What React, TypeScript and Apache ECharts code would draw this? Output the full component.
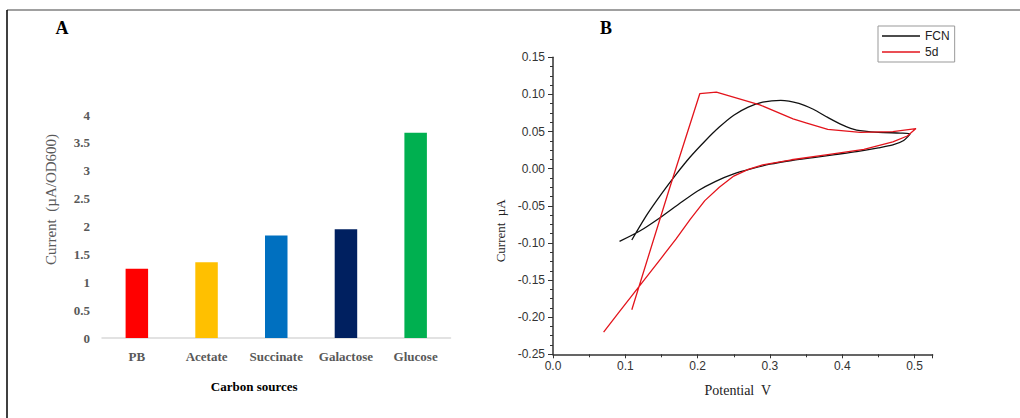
import React, { useEffect, useRef } from "react";
import * as echarts from "echarts";

// ---- Panel A data ----
const carbonSources = ["PB", "Acetate", "Succinate", "Galactose", "Glucose"];
const currentPerOD = [1.24, 1.36, 1.84, 1.95, 3.68];
const barColors = ["#FF0000", "#FFC000", "#0070C0", "#002060", "#00B050"];
const barTicks = { min: 0, max: 4, interval: 0.5 };

// ---- Panel B data (cyclic voltammograms) ----
const fcnPotential = [
  0.092, 0.12, 0.148, 0.175, 0.2, 0.225, 0.25, 0.275, 0.3, 0.33, 0.36, 0.39, 0.42, 0.45, 0.47, 0.485, 0.494,
  0.48, 0.45, 0.42, 0.4, 0.38, 0.36, 0.34, 0.315, 0.29, 0.27, 0.25, 0.23, 0.21, 0.19, 0.17, 0.15, 0.13, 0.109,
];
const fcnCurrent = [
  -0.098, -0.084, -0.066, -0.047, -0.03, -0.017, -0.007, 0.0, 0.006, 0.011, 0.015, 0.019, 0.023, 0.028, 0.032, 0.038, 0.047,
  0.048, 0.049, 0.052, 0.059, 0.069, 0.080, 0.088, 0.092, 0.0895, 0.083, 0.072, 0.056, 0.037, 0.016, -0.008, -0.034, -0.062, -0.096,
];
const d5Potential = [
  0.07, 0.09, 0.11, 0.13, 0.15, 0.17, 0.19, 0.21, 0.23, 0.25, 0.27, 0.29, 0.33, 0.38, 0.43, 0.47, 0.49, 0.502,
  0.47, 0.425, 0.38, 0.351, 0.332, 0.286, 0.226, 0.203, 0.16, 0.109,
];
const d5Current = [
  -0.22, -0.195, -0.17, -0.145, -0.12, -0.095, -0.068, -0.043, -0.025, -0.01, -0.001, 0.005, 0.012, 0.019, 0.026, 0.036, 0.044, 0.054,
  0.05, 0.049, 0.053, 0.0615, 0.067, 0.086, 0.103, 0.101, -0.03, -0.19,
];

const serif = "'Liberation Serif', 'Times New Roman', serif";
const sans = "'Liberation Sans', Arial, sans-serif";

export default function App() {
  const ref = useRef<HTMLDivElement>(null);

  useEffect(() => {
    if (!ref.current) return;
    const chart = echarts.init(ref.current, null, { renderer: "svg" });
    const pairs = (xs: number[], ys: number[]) => xs.map((x, i) => [x, ys[i]]);

    chart.setOption({
      animation: false,
      backgroundColor: "#ffffff",
      textStyle: { fontFamily: sans },
      grid: [
        { left: 102, top: 115, width: 348.5, height: 223 },
        { left: 553, top: 57.3, width: 379.6, height: 297 },
      ],
      legend: {
        data: [
          { name: "FCN", icon: "rect" },
          { name: "5d", icon: "rect" },
        ],
        orient: "vertical",
        left: 878,
        top: 26,
        itemWidth: 38,
        itemHeight: 1.5,
        itemGap: 2,
        padding: [3, 5, 3, 4],
        borderColor: "#999",
        borderWidth: 1,
        textStyle: { fontFamily: sans, fontSize: 12, color: "#222", lineHeight: 14 },
      },
      xAxis: [
        {
          gridIndex: 0,
          type: "category",
          data: carbonSources,
          axisLine: { lineStyle: { color: "#d9d9d9", width: 1.5 } },
          axisTick: { show: false },
          axisLabel: { interval: 0, color: "#595959", fontFamily: serif, fontSize: 13, fontWeight: "bold", margin: 12 },
          name: "Carbon sources",
          nameLocation: "middle",
          nameGap: 42,
          nameTextStyle: { fontFamily: serif, fontSize: 13, fontWeight: "bold", color: "#000", padding: [0, 44, 0, 0] },
        },
        {
          gridIndex: 1,
          type: "value",
          min: 0,
          max: 0.525,
          interval: 0.1,
          axisLine: { onZero: false, lineStyle: { color: "#333", width: 1.5 } },
          axisTick: { length: 4, lineStyle: { color: "#333" } },
          minorTick: { show: true, splitNumber: 2, length: 3, lineStyle: { color: "#333" } },
          splitLine: { show: false },
          axisLabel: {
            color: "#333",
            fontSize: 12,
            fontFamily: sans,
            margin: 6,
            showMaxLabel: false,
            formatter: (v: number) => v.toFixed(1),
          },
          name: "Potential  V",
          nameLocation: "middle",
          nameGap: 29,
          nameTextStyle: { fontFamily: serif, fontSize: 14, color: "#222", padding: [0, 10, 0, 0] },
        },
      ],
      yAxis: [
        {
          gridIndex: 0,
          type: "value",
          min: barTicks.min,
          max: barTicks.max,
          interval: barTicks.interval,
          axisLine: { show: false },
          axisTick: { show: false },
          splitLine: { show: false },
          axisLabel: { color: "#595959", fontFamily: serif, fontSize: 13, fontWeight: "bold", margin: 12 },
          name: "Current  (µA/OD600)",
          nameLocation: "middle",
          nameGap: 44,
          nameTextStyle: { fontFamily: serif, fontSize: 15, color: "#595959", padding: [0, 0, 0, 54] },
        },
        {
          gridIndex: 1,
          type: "value",
          min: -0.25,
          max: 0.15,
          interval: 0.05,
          axisLine: { show: true, onZero: false, lineStyle: { color: "#333", width: 1.5 } },
          axisTick: { length: 5, lineStyle: { color: "#333" } },
          minorTick: { show: true, splitNumber: 4, length: 3, lineStyle: { color: "#333" } },
          splitLine: { show: false },
          axisLabel: {
            color: "#333",
            fontSize: 12,
            fontFamily: sans,
            margin: 8,
            formatter: (v: number) => v.toFixed(2),
          },
          name: "Current  µA",
          nameLocation: "middle",
          nameGap: 46,
          nameTextStyle: { fontFamily: serif, fontSize: 13, color: "#222", padding: [0, 50, 0, 0] },
        },
      ],
      series: [
        {
          type: "bar",
          xAxisIndex: 0,
          yAxisIndex: 0,
          barWidth: 22.5,
          data: currentPerOD.map((v, i) => ({ value: v, itemStyle: { color: barColors[i] } })),
        },
        {
          name: "FCN",
          type: "line",
          xAxisIndex: 1,
          yAxisIndex: 1,
          symbol: "none",
          smooth: 0.25,
          lineStyle: { color: "#111", width: 1.3 },
          itemStyle: { color: "#111" },
          data: pairs(fcnPotential, fcnCurrent),
        },
        {
          name: "5d",
          type: "line",
          xAxisIndex: 1,
          yAxisIndex: 1,
          symbol: "none",
          lineStyle: { color: "#e3141c", width: 1.3 },
          itemStyle: { color: "#e3141c" },
          data: pairs(d5Potential, d5Current),
        },
      ],
      graphic: [
        { type: "line", shape: { x1: 7, y1: 10, x2: 1020, y2: 10 }, style: { stroke: "#808080", lineWidth: 1.5 } },
        { type: "line", shape: { x1: 7, y1: 10, x2: 7, y2: 418 }, style: { stroke: "#000", lineWidth: 1.5 } },
        {
          type: "text",
          x: 62,
          y: 28,
          style: { text: "A", font: `bold 18px ${serif}`, fill: "#000", align: "center", verticalAlign: "middle" },
        },
        {
          type: "text",
          x: 606,
          y: 28,
          style: { text: "B", font: `bold 18px ${serif}`, fill: "#000", align: "center", verticalAlign: "middle" },
        },
      ],
    });

    return () => chart.dispose();
  }, []);

  return (
    <div
      ref={ref}
      style={{ position: "absolute", left: 0, top: 0, width: 1020, height: 418, background: "#fff" }}
    />
  );
}
